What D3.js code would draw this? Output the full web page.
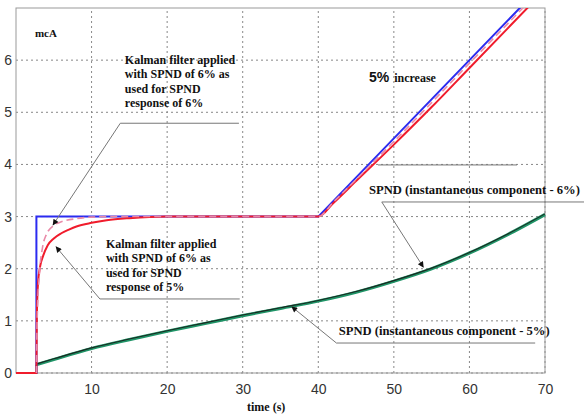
<!DOCTYPE html>
<html>
<head>
<meta charset="utf-8">
<script src="https://cdn.jsdelivr.net/npm/d3@7"></script>
<style>
  body { margin: 0; background: #fff; }
  svg { display: block; }
</style>
</head>
<body>
<div id="chart"></div>
<script>
// axis ticks
var xTicks = [10, 20, 30, 40, 50, 60, 70];
var yTicks = [0, 1, 2, 3, 4, 5, 6];

// measured signal (blue): step at ~2.7 s, 5% ramp from 40 s
var blueT = [0, 2.7, 2.7, 40, 70];
var blueV = [0, 0, 3, 3, 7.5];

// Kalman filter, SPND 6% used for 5% response (red)
var redT = [0, 2.7, 2.75, 2.9, 3.2, 3.6, 4.2, 5, 6, 7, 8, 10, 12, 15, 20, 40, 42, 45, 50, 55, 60, 65, 70];
var redV = [0, 0, 1.0, 1.7, 2.05, 2.25, 2.45, 2.58, 2.68, 2.75, 2.81, 2.88, 2.93, 2.97, 3.0, 3.0, 3.26, 3.68, 4.38, 5.1, 5.85, 6.6, 7.35];

// Kalman filter, SPND 6% used for 6% response (pink dashed)
var pinkT = [2.7, 2.8, 3.1, 3.5, 4.0, 5, 6, 8, 10, 13, 40, 42, 50, 60, 70];
var pinkV = [0, 1.0, 1.9, 2.4, 2.65, 2.83, 2.9, 2.96, 2.99, 3.0, 3.0, 3.28, 4.44, 5.94, 7.44];

// SPND instantaneous components (green / black)
var spndT = [2.7, 5, 10, 15, 20, 25, 30, 35, 40, 45, 50, 55, 60, 65, 70];
var spndV = [0.16, 0.26, 0.47, 0.64, 0.8, 0.95, 1.1, 1.24, 1.38, 1.55, 1.76, 2.0, 2.3, 2.65, 3.04];

var W = 584, H = 416;

var svg = d3.select("#chart").append("svg")
  .attr("width", W)
  .attr("height", H);

var x = d3.scaleLinear().domain([0, 70]).range([16, 545]);
var y = d3.scaleLinear().domain([0, 7]).range([373, 8]);

svg.append("clipPath").attr("id", "plotClip")
  .append("rect")
  .attr("x", x(0)).attr("y", y(7))
  .attr("width", x(70) - x(0) + 2).attr("height", y(0) - y(7) + 2);

svg.append("marker")
  .attr("id", "arrow")
  .attr("viewBox", "0 0 10 10")
  .attr("refX", "9")
  .attr("refY", "5")
  .attr("markerUnits", "userSpaceOnUse")
  .attr("markerWidth", "8")
  .attr("markerHeight", "6")
  .attr("orient", "auto")
  .append("path")
  .attr("d", "M 0 0 L 10 5 L 0 10 z")
  .attr("fill", "#111");

// grid
var grid = svg.append("g");
grid.selectAll(".gx").data(xTicks).enter().append("line")
  .attr("x1", function (d) { return x(d); }).attr("x2", function (d) { return x(d); })
  .attr("y1", y(0)).attr("y2", y(7))
  .attr("stroke", "#888").attr("stroke-dasharray", "2,3");
grid.selectAll(".gy").data(yTicks).enter().append("line")
  .attr("x1", x(0)).attr("x2", x(70))
  .attr("y1", function (d) { return y(d); }).attr("y2", function (d) { return y(d); })
  .attr("stroke", "#888").attr("stroke-dasharray", "2,3");

svg.append("rect")
  .attr("x", x(0)).attr("y", y(7))
  .attr("width", x(70) - x(0)).attr("height", y(0) - y(7))
  .attr("fill", "none").attr("stroke", "#999");

// axes
var xAxis = svg.append("g").attr("transform", "translate(0," + y(0) + ")")
  .call(d3.axisBottom(x).tickValues(xTicks).tickFormat(d3.format("d")).tickSize(0).tickPadding(8));
var yAxis = svg.append("g").attr("transform", "translate(" + x(0) + ",0)")
  .call(d3.axisLeft(y).tickValues(yTicks).tickFormat(d3.format("d")).tickSize(0).tickPadding(4));
[xAxis, yAxis].forEach(function (a) {
  a.select(".domain").remove();
  a.selectAll("text")
    .attr("font-family", "'Liberation Sans', Arial, sans-serif")
    .attr("font-size", 14)
    .attr("fill", "#333");
});
xAxis.selectAll("text").attr("dy", "0.9em");

// curves
var plot = svg.append("g").attr("clip-path", "url(#plotClip)");

function pts(ts, vs) {
  return ts.map(function (t, i) { return [t, vs[i]]; });
}
var lineLin = d3.line()
  .x(function (d) { return x(d[0]); })
  .y(function (d) { return y(d[1]); });
var lineSmooth = d3.line()
  .x(function (d) { return x(d[0]); })
  .y(function (d) { return y(d[1]); })
  .curve(d3.curveMonotoneX);

// zero level before the step
plot.append("line")
  .attr("x1", x(0)).attr("x2", x(2.7))
  .attr("y1", y(0)).attr("y2", y(0))
  .attr("stroke", "#444").attr("stroke-width", 2);

plot.append("path").datum(pts(spndT, spndV))
  .attr("d", lineSmooth)
  .attr("fill", "none").attr("stroke", "#1f9467").attr("stroke-width", 3.2);
plot.append("path").datum(pts(spndT, spndV))
  .attr("d", lineSmooth)
  .attr("transform", "translate(0,-0.6)")
  .attr("fill", "none").attr("stroke", "#1a2a22").attr("stroke-width", 1.1);
plot.append("line")
  .attr("x1", x(2.7)).attr("x2", x(2.7))
  .attr("y1", y(0)).attr("y2", y(spndV[0]))
  .attr("stroke", "#1f9467").attr("stroke-width", 2);

plot.append("path").datum(pts(blueT, blueV))
  .attr("d", lineLin)
  .attr("fill", "none").attr("stroke", "#2b2bf0").attr("stroke-width", 2);
plot.append("path").datum(pts(redT, redV))
  .attr("d", lineSmooth)
  .attr("fill", "none").attr("stroke", "#f01c2c").attr("stroke-width", 2);
plot.append("path").datum(pts(pinkT, pinkV))
  .attr("d", lineSmooth)
  .attr("fill", "none").attr("stroke", "#e98aa8").attr("stroke-width", 1.6)
  .attr("stroke-dasharray", "7,4");

// annotations
var serif = "'Liberation Serif', 'Times New Roman', serif";
var ann = svg.append("g");

function leader(p) {
  ann.append("polyline")
    .attr("points", p.map(function (d) { return x(d[0]) + "," + y(d[1]); }).join(" "))
    .attr("fill", "none").attr("stroke", "#777").attr("stroke-width", 1)
    .attr("marker-end", "url(#arrow)");
}
function block(t, v, lines, len) {
  lines.forEach(function (s, i) {
    var tx = ann.append("text")
      .attr("x", x(t)).attr("y", y(v) + i * 14.5)
      .attr("font-family", serif).attr("font-weight", "bold")
      .attr("font-size", 12).attr("fill", "#111")
      .text(s);
    if (len) tx.attr("textLength", len).attr("lengthAdjust", "spacingAndGlyphs");
  });
}

leader([[29.5, 4.79], [13.8, 4.79], [4.9, 2.84]]);
leader([[29.6, 1.42], [11.1, 1.42], [5.3, 2.42]]);
leader([[75.2, 3.28], [48.4, 3.28], [53.9, 2.03]]);
leader([[68.7, 0.575], [42.4, 0.575], [36.5, 1.27]]);
ann.append("line")
  .attr("x1", x(47.9)).attr("x2", x(66.3))
  .attr("y1", y(3.99)).attr("y2", y(3.99))
  .attr("stroke", "#777");

block(14.4, 5.93, ["Kalman filter applied", "with SPND of 6% as", "used for SPND", "response of 6%"]);
block(11.9, 2.40, ["Kalman filter applied", "with SPND of 6% as", "used for SPND", "response of 5%"]);
block(46.7, 3.43, ["SPND (instantaneous component - 6%)"], 211);
block(42.7, 0.73, ["SPND (instantaneous component - 5%)"], 211);

ann.append("text")
  .attr("x", x(2.5)).attr("y", y(6.44))
  .attr("font-family", serif).attr("font-weight", "bold")
  .attr("font-size", 11).attr("fill", "#111")
  .text("mcA");

var inc = ann.append("text")
  .attr("x", x(46.7)).attr("y", y(5.58))
  .attr("fill", "#111");
inc.append("tspan")
  .attr("font-family", "'Liberation Sans', Arial, sans-serif")
  .attr("font-weight", "bold").attr("font-size", 14)
  .text("5%");
inc.append("tspan")
  .attr("dx", 5)
  .attr("font-family", serif).attr("font-weight", "bold").attr("font-size", 12)
  .text("increase");

svg.append("text")
  .attr("x", 247).attr("y", 411)
  .attr("font-family", serif).attr("font-weight", "bold")
  .attr("font-size", 12).attr("fill", "#111")
  .text("time (s)");
</script>
</body>
</html>
